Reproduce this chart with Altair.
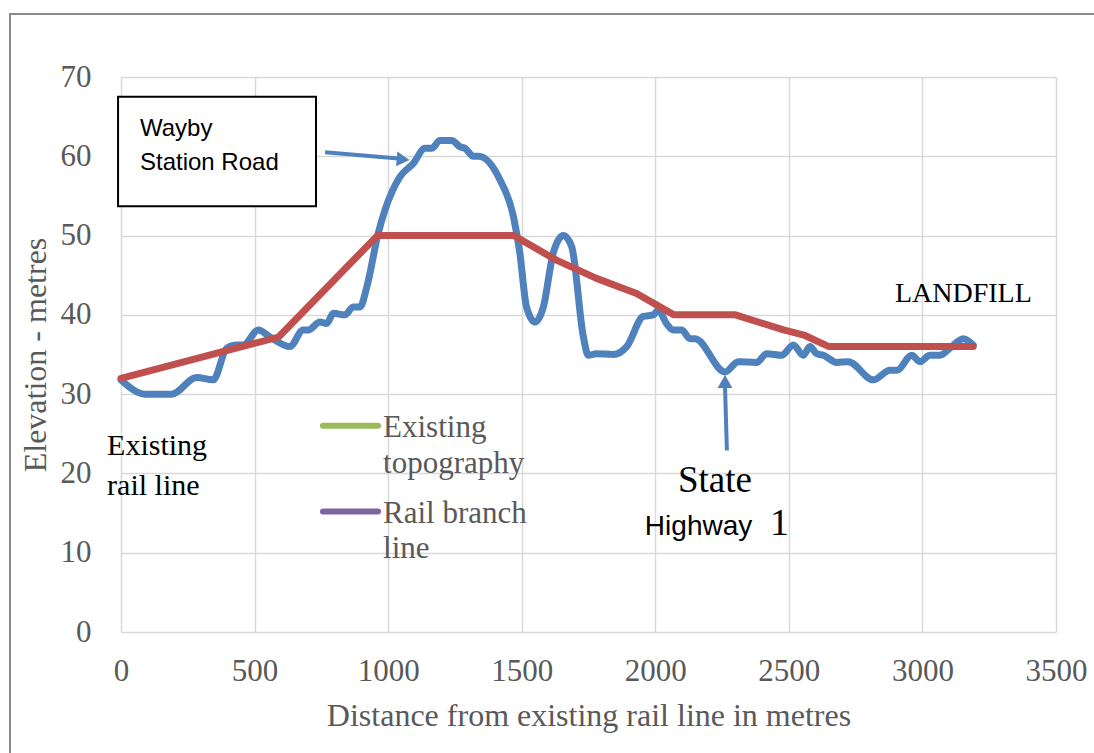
import altair as alt
import pandas as pd

# Existing topography (blue)
topo_x = [0, 90, 190, 283, 345, 396, 433, 458, 514, 558, 632, 682, 701, 745, 770, 795, 838, 870, 895,
          920, 963, 988, 1044, 1094, 1138, 1163, 1194, 1238, 1269, 1288, 1319, 1338, 1419, 1469, 1493,
          1518, 1550, 1581, 1618, 1656, 1687, 1731, 1749, 1780, 1843, 1893, 1955, 1993, 2011, 2042,
          2067, 2099, 2130, 2149, 2261, 2311, 2379, 2417, 2473, 2517, 2554, 2579, 2604, 2629, 2679,
          2722, 2816, 2878, 2904, 2960, 2991, 3028, 3066, 3103, 3153, 3190]
topo_y = [31.8, 30, 30, 32.1, 31.8, 35.8, 36.2, 36.2, 38.1, 37.2, 36, 38.1, 38.1, 39.1, 38.9, 40.2, 40, 41, 41,
          43.5, 50.3, 53.2, 57.4, 59.1, 61, 61, 62, 62, 61.2, 61, 60, 60, 57, 52.4, 47.8,
          41, 39.1, 41, 47.8, 50, 48.6, 37.2, 34.9, 35.1, 35, 36, 39.8, 40, 40.6, 38.9,
          38.1, 38.1, 37, 37, 32.8, 34.1, 34, 35.1, 34.9, 36.2, 34.9, 36, 35.1, 34.9, 34,
          34.1, 31.8, 33, 33, 34.9, 34.1, 34.9, 34.9, 35.8, 37, 36.2]

# Rail branch line (red)
rail_x = [0, 590, 960, 1470, 1630, 1780, 1930, 2070, 2300, 2480, 2560, 2650, 3190]
rail_y = [32, 37.2, 50, 50, 46.9, 44.6, 42.7, 40, 40, 38.1, 37.4, 36, 36]

x_ticks = [0, 500, 1000, 1500, 2000, 2500, 3000, 3500]
y_ticks = [0, 10, 20, 30, 40, 50, 60, 70]

topo = pd.DataFrame({"dist": topo_x, "elev": topo_y})
rail = pd.DataFrame({"dist": rail_x, "elev": rail_y})

GRID = "#d9d9d9"
GREY = "#595959"
SERIF = "Liberation Serif"
SANS = "Liberation Sans"

x_enc = alt.X("dist:Q", scale=alt.Scale(domain=[0, 3500], nice=False, zero=False),
              axis=alt.Axis(values=x_ticks, format="d", labelFlush=False,
                            title="Distance from existing rail line in metres",
                            grid=True, gridColor=GRID, gridWidth=1.5, domain=False, ticks=False,
                            tickSize=0, labelPadding=48, labelBaseline="alphabetic",
                            labelFont=SERIF, labelFontSize=31, labelColor=GREY,
                            titleFont=SERIF, titleFontSize=32, titleColor=GREY,
                            titleFontWeight="normal", titleY=93, titleBaseline="alphabetic"))
y_enc = alt.Y("elev:Q", scale=alt.Scale(domain=[0, 70], nice=False, zero=False),
              axis=alt.Axis(values=y_ticks, format="d", labelFlush=False, title="Elevation - metres",
                            grid=True, gridColor=GRID, gridWidth=1.5, domain=False, ticks=False,
                            tickSize=0, labelPadding=30, labelFont=SERIF, labelFontSize=31,
                            labelColor=GREY, titleFont=SERIF, titleFontSize=32, titleColor=GREY,
                            titleFontWeight="normal", titleX=-86, titleBaseline="middle"))

blue = alt.Chart(topo).mark_line(color="#4f81bd", strokeWidth=7, interpolate="monotone",
                                 strokeCap="round", strokeJoin="round").encode(x=x_enc, y=y_enc)
red = alt.Chart(rail).mark_line(color="#c0504d", strokeWidth=7, strokeCap="round",
                                strokeJoin="round").encode(x=x_enc, y=y_enc)

# outer chart border
border = alt.Chart(pd.DataFrame({"a": [0]})).mark_rect(fill=None, stroke="#8a8a8a", strokeWidth=2).encode(
    x=alt.value(-111), x2=alt.value(1000), y=alt.value(-63), y2=alt.value(800))

# Wayby Station Road box
box_df = pd.DataFrame({"dist": [-11], "dist2": [730], "elev": [67.5], "elev2": [53.7]})
box = alt.Chart(box_df).mark_rect(fill="white", stroke="black", strokeWidth=2).encode(
    x=x_enc, x2="dist2:Q", y=y_enc, y2="elev2:Q")


def texts(labels, xs, ys, font, size, color):
    df = pd.DataFrame({"dist": xs, "elev": ys, "t": labels})
    return alt.Chart(df).mark_text(font=font, fontSize=size, color=color, align="left",
                                   baseline="alphabetic").encode(x=x_enc, y=y_enc, text="t:N")


wayby = texts(["Wayby", "Station Road"], [71, 71], [62.6, 58.3], SANS, 24, "black")
existing = texts(["Existing", "rail line"], [-52, -52], [22.3, 17.3], SERIF, 30, "black")
landfill = texts(["LANDFILL"], [2897], [41.6], SERIF, 28, "black")
state = texts(["State"], [2085], [17.7], SERIF, 37, "black")
highway = texts(["Highway"], [1961], [12.2], SANS, 28, "black")
one = texts(["1"], [2429], [12.2], SERIF, 38, "black")
leg_text = texts(["Existing", "topography", "Rail branch", "line"], [981, 981, 981, 981],
                 [24.6, 20.1, 13.7, 9.3], SERIF, 31, GREY)

leg_df = pd.DataFrame({"dist": [756, 756], "dist2": [962, 962], "elev": [26.0, 15.2],
                       "c": ["#9bbb59", "#8064a2"]})
leg_lines = alt.Chart(leg_df).mark_rule(strokeWidth=6, strokeCap="round").encode(
    x=x_enc, x2="dist2:Q", y=y_enc, color=alt.Color("c:N", scale=None))

# arrows
arr_df = pd.DataFrame({"dist": [764, 2268], "dist2": [1050, 2261], "elev": [60.5, 22.9],
                       "elev2": [59.7, 31.0]})
arr_lines = alt.Chart(arr_df).mark_rule(color="#4f81bd", strokeWidth=4).encode(
    x=x_enc, x2="dist2:Q", y=y_enc, y2="elev2:Q")
head1 = alt.Chart(pd.DataFrame({"dist": [1056], "elev": [59.6]})).mark_point(
    shape="triangle-right", filled=True, size=220, color="#4f81bd", opacity=1, angle=5).encode(x=x_enc, y=y_enc)
head2 = alt.Chart(pd.DataFrame({"dist": [2261], "elev": [31.6]})).mark_point(
    shape="triangle-up", filled=True, size=220, color="#4f81bd", opacity=1).encode(x=x_enc, y=y_enc)

chart = alt.layer(blue, red, border, box, wayby, existing, landfill, state, highway, one,
                  leg_lines, leg_text, arr_lines, head1, head2).properties(
    width=935, height=555,
    autosize=alt.AutoSizeParams(type="none"),
    padding={"left": 121, "top": 77, "right": 38, "bottom": 121},
    background="white",
).configure_view(stroke=None)

chart.save("out.html", embed_options={"renderer": "svg", "actions": False})
